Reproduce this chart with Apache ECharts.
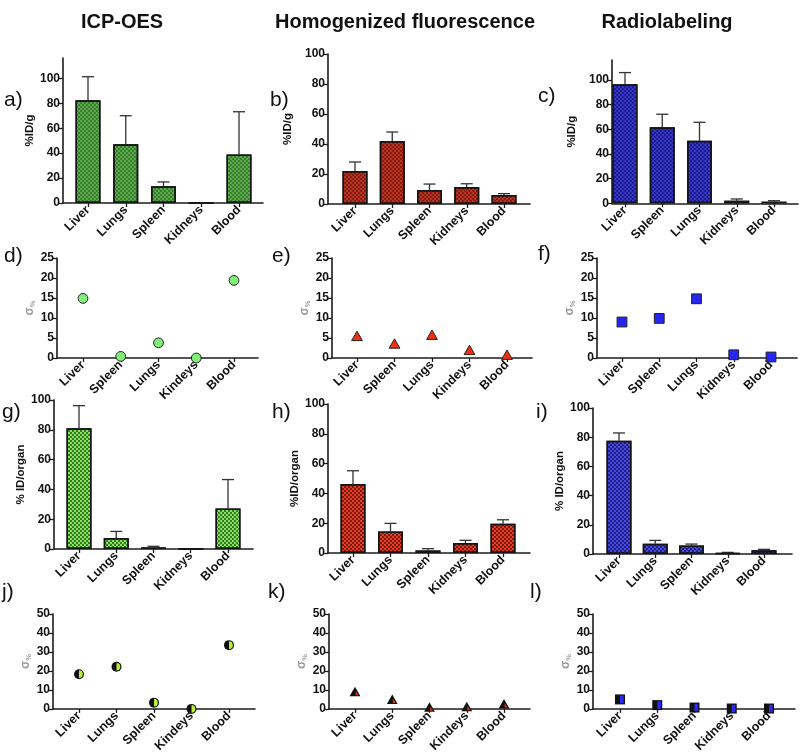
<!DOCTYPE html>
<html><head><meta charset="utf-8">
<script src="https://cdn.jsdelivr.net/npm/echarts@6/dist/echarts.min.js"></script>
<style>html,body{margin:0;padding:0;background:#fff}#c{width:800px;height:755px}</style>
</head><body><div id="c"></div>
<script>
// ---------- DATA ----------
const titles = ['ICP-OES', 'Homogenized fluorescence', 'Radiolabeling'];
const letters = ['a)','b)','c)','d)','e)','f)','g)','h)','i)','j)','k)','l)'];

const catsA = ['Liver','Lungs','Spleen','Kidneys','Blood'];
const valsA = [82.5, 47.2, 13.4, 0, 38.9];
const errsA = [18.8, 22.8, 3.5, 0, 34.3];

const catsB = ['Liver','Lungs','Spleen','Kidneys','Blood'];
const valsB = [22, 42, 9.3, 11.3, 6];
const errsB = [6, 6, 4, 2.2, 0.9];

const catsC = ['Liver','Spleen','Lungs','Kidneys','Blood'];
const valsC = [96.5, 61.6, 50.8, 2.1, 1.3];
const errsC = [9.5, 10.6, 14.9, 1.4, 0.8];

const catsD = ['Liver','Spleen','Lungs','Kindeys','Blood'];
const valsD = [14.9, 0.4, 3.8, 0, 19.4];

const catsE = ['Liver','Spleen','Lungs','Kindeys','Blood'];
const valsE = [5.3, 3.4, 5.6, 1.8, 0.6];

const catsF = ['Liver','Spleen','Lungs','Kidneys','Blood'];
const valsF = [9.0, 9.9, 14.8, 0.8, 0.25];

const catsG = ['Liver','Lungs','Spleen','Kidneys','Blood'];
const valsG = [81, 7.4, 1.1, 0, 27.2];
const errsG = [15.2, 4.4, 0.7, 0, 19.4];

const catsH = ['Liver','Lungs','Spleen','Kidneys','Blood'];
const valsH = [46.3, 14.5, 1.7, 6.7, 19.7];
const errsH = [8.9, 5.4, 1.2, 1.8, 2.6];

const catsI = ['Liver','Lungs','Spleen','Kidneys','Blood'];
const valsI = [77.5, 7.0, 5.9, 0.6, 2.5];
const errsI = [5.4, 2.3, 0.9, 0.5, 0.7];

const catsJ = ['Liver','Lungs','Spleen','Kindeys','Blood'];
const valsJ = [18.3, 22.2, 3.3, 0, 33.6];

const catsK = ['Liver','Lungs','Spleen','Kindeys','Blood'];
const valsK = [8.7, 4.7, 0.5, 0.8, 2.2];

const catsL = ['Liver','Lungs','Spleen','Kidneys','Blood'];
const valsL = [5.0, 2.0, 0.7, 0.2, 0.2];

const ticksPct = [0, 20, 40, 60, 80, 100];
const ticksSig25 = [0, 5, 10, 15, 20, 25];
const ticksSig50 = [0, 10, 20, 30, 40, 50];

// ---------- LAYOUT / STYLE ----------
const FONT = 'Liberation Sans, Arial, sans-serif';
const sigmaName = '{s|σ}{p|%}';
const panels = [
  {cats:catsA, vals:valsA, errs:errsA, kind:'bar', fill:'#5aa84a', dec:'rgba(0,50,0,0.35)', ticks:ticksPct, name:'%ID/g', L:63,R:263,T:58,B:203,c1:88,c5:239,ymax:116.3,gap:24},
  {cats:catsB, vals:valsB, errs:errsB, kind:'bar', fill:'#b83222', dec:'rgba(60,0,0,0.4)', ticks:ticksPct, name:'%ID/g', L:328,R:530,T:54,B:204,c1:355,c5:504,ymax:100,gap:34},
  {cats:catsC, vals:valsC, errs:errsC, kind:'bar', fill:'#3434c8', dec:'rgba(0,0,50,0.4)', ticks:ticksPct, name:'%ID/g', L:612,R:798,T:60,B:203.3,c1:625,c5:774,ymax:116.2,gap:34},
  {cats:catsD, vals:valsD, kind:'circle', ticks:ticksSig25, name:sigmaName, L:57,R:258,T:258,B:358,c1:83,c5:234,ymax:25,gap:19},
  {cats:catsE, vals:valsE, kind:'tri', ticks:ticksSig25, name:sigmaName, L:332,R:532,T:258,B:358,c1:357,c5:507,ymax:25,gap:19},
  {cats:catsF, vals:valsF, kind:'sq', ticks:ticksSig25, name:sigmaName, L:597,R:797,T:258,B:358,c1:622,c5:771,ymax:25,gap:20},
  {cats:catsG, vals:valsG, errs:errsG, kind:'bar', fill:'#7ee85a', dec:'rgba(0,0,0,0.5)', ticks:ticksPct, name:'% ID/organ', L:54,R:253,T:400,B:549,c1:79,c5:228,ymax:100,gap:22},
  {cats:catsH, vals:valsH, errs:errsH, kind:'bar', fill:'#ec3a20', dec:'rgba(0,0,0,0.5)', ticks:ticksPct, name:'%ID/organ', L:328,R:530,T:404,B:553,c1:353,c5:503,ymax:100,gap:24},
  {cats:catsI, vals:valsI, errs:errsI, kind:'bar', fill:'#4646ee', dec:'rgba(0,0,0,0.5)', ticks:ticksPct, name:'% ID/organ', L:593,R:792,T:408,B:554,c1:619,c5:764,ymax:100,gap:22},
  {cats:catsJ, vals:valsJ, kind:'hcircle', ticks:ticksSig50, name:sigmaName, L:53,R:255,T:614,B:712,c1:79,c5:229,ymax:50,gap:20},
  {cats:catsK, vals:valsK, kind:'htri', ticks:ticksSig50, name:sigmaName, L:329,R:530,T:614,B:713,c1:355,c5:504,ymax:50,gap:17},
  {cats:catsL, vals:valsL, kind:'hsq', ticks:ticksSig50, name:sigmaName, L:593,R:795,T:614,B:713,c1:620,c5:769,ymax:50,gap:18}
];
const letterPos = [[4,100],[270,100],[538,96],[4,256],[272,256],[538,254],[2,412],[272,412],[536,412],[2,592],[268,592],[530,592]];
const titlePos = [[122,22],[405,22],[667,22]];

const AX = '#1c1c1c';
const grids = [], xAxes = [], yAxes = [], series = [];

function markerRender(kind) {
  return function (params, api) {
    const p = api.coord([api.value(0), api.value(1)]);
    const x = p[0], y = p[1];
    const st = {stroke:'#222', lineWidth:1};
    if (kind === 'circle') return {type:'circle', shape:{cx:x, cy:y, r:4.9}, style:Object.assign({fill:'#80ee78'}, st)};
    if (kind === 'tri') return {type:'polygon', shape:{points:[[x,y-5.6],[x+5.4,y+3.8],[x-5.4,y+3.8]]}, style:Object.assign({fill:'#f0300e'}, st)};
    if (kind === 'sq') return {type:'rect', shape:{x:x-4.9, y:y-4.9, width:9.8, height:9.8}, style:Object.assign({fill:'#2626f2'}, st)};
    if (kind === 'hcircle') return {type:'group', children:[
      {type:'circle', shape:{cx:x, cy:y, r:5}, style:{fill:'#111'}},
      {type:'sector', shape:{cx:x, cy:y, r0:0, r:3.8, startAngle:-Math.PI/2, endAngle:Math.PI/2, clockwise:true}, style:{fill:'#b6f03a'}}
    ]};
    if (kind === 'htri') return {type:'group', children:[
      {type:'polygon', shape:{points:[[x,y-5.6],[x+5.4,y+3.9],[x-5.4,y+3.9]]}, style:{fill:'#111'}},
      {type:'polygon', shape:{points:[[x+0.6,y-1.5],[x+3.5,y+2.9],[x+0.6,y+2.9]]}, style:{fill:'#f0300e'}}
    ]};
    if (kind === 'hsq') return {type:'group', children:[
      {type:'rect', shape:{x:x-5, y:y-5, width:10, height:10}, style:{fill:'#111'}},
      {type:'rect', shape:{x:x, y:y-3.7, width:3.6, height:7.4}, style:{fill:'#2a2af4'}}
    ]};
  };
}

function errRender(params, api) {
  const xv = api.value(0), v = api.value(1), e = api.value(2);
  if (!(e > 0)) return null;
  const p0 = api.coord([xv, v]);
  const p1 = api.coord([xv, v + e]);
  const st = {stroke:'#333', lineWidth:1.3};
  return {type:'group', children:[
    {type:'line', shape:{x1:p0[0], y1:p0[1], x2:p1[0], y2:p1[1]}, style:st},
    {type:'line', shape:{x1:p1[0]-6, y1:p1[1], x2:p1[0]+6, y2:p1[1]}, style:st}
  ]};
}

panels.forEach((p, i) => {
  const sp = (p.c5 - p.c1) / 4;
  grids.push({left:p.L, top:p.T, width:p.R - p.L, height:p.B - p.T});
  const positions = p.cats.map((c, k) => k + 1);
  xAxes.push({
    type:'value', gridIndex:i, min:1 - (p.c1 - p.L) / sp, max:5 + (p.R - p.c5) / sp,
    splitLine:{show:false},
    axisLine:{show:true, onZero:false, lineStyle:{color:AX, width:1.6}},
    axisTick:{show:true, customValues:positions, length:4, lineStyle:{color:AX, width:1.3}},
    axisLabel:{customValues:positions, rotate:45, margin:5,
      formatter:(v) => p.cats[Math.round(v) - 1] || '',
      fontFamily:FONT, fontWeight:'bold', fontSize:12.5, color:'#111'}
  });
  yAxes.push({
    type:'value', gridIndex:i, min:0, max:p.ymax,
    splitLine:{show:false},
    axisLine:{show:true, onZero:false, lineStyle:{color:AX, width:1.6}},
    axisTick:{show:true, customValues:p.ticks, length:4, lineStyle:{color:AX, width:1.3}},
    axisLabel:{customValues:p.ticks, margin:3, fontFamily:FONT, fontWeight:'bold', fontSize:12, color:'#111'},
    name:p.name, nameLocation:'middle', nameGap:p.gap, nameRotate:90,
    nameTextStyle:{fontFamily:FONT, fontWeight:'bold', fontSize:11.5, color:'#111',
      rich:{s:{fontSize:12, color:'#9a9a9a', fontFamily:FONT}, p:{fontSize:7.5, color:'#9a9a9a', fontFamily:FONT, padding:[6,0,0,0]}}}
  });
  if (p.kind === 'bar') {
    series.push({
      type:'bar', xAxisIndex:i, yAxisIndex:i, barWidth:25,
      data:p.vals.map((v, k) => [k + 1, v]),
      itemStyle:{color:p.fill, borderColor:'#151515', borderWidth:1.5,
        decal:{symbol:'rect', symbolSize:1, dashArrayX:[[2,2],[0,2,2,0]], dashArrayY:[2,0], color:p.dec}},
      silent:true, animation:false
    });
    series.push({
      type:'custom', xAxisIndex:i, yAxisIndex:i, renderItem:errRender,
      data:p.vals.map((v, k) => [k + 1, v, p.errs[k]]), z:1, silent:true, animation:false, clip:false
    });
  } else {
    series.push({
      type:'custom', xAxisIndex:i, yAxisIndex:i, renderItem:markerRender(p.kind),
      data:p.vals.map((v, k) => [k + 1, v]), z:5, silent:true, animation:false, clip:false
    });
  }
});

const graphic = [];
titles.forEach((t, k) => graphic.push({type:'text', x:titlePos[k][0], y:titlePos[k][1],
  style:{text:t, font:'bold 20px ' + FONT, fill:'#111', textAlign:'center', textVerticalAlign:'middle'}}));
letters.forEach((t, k) => graphic.push({type:'text', x:letterPos[k][0], y:letterPos[k][1],
  style:{text:t, font:'21px ' + FONT, fill:'#111', textAlign:'left', textVerticalAlign:'middle'}}));

const chart = echarts.init(document.getElementById('c'));
chart.setOption({animation:false, grid:grids, xAxis:xAxes, yAxis:yAxes, series:series, graphic:graphic});
</script>
</body></html>
